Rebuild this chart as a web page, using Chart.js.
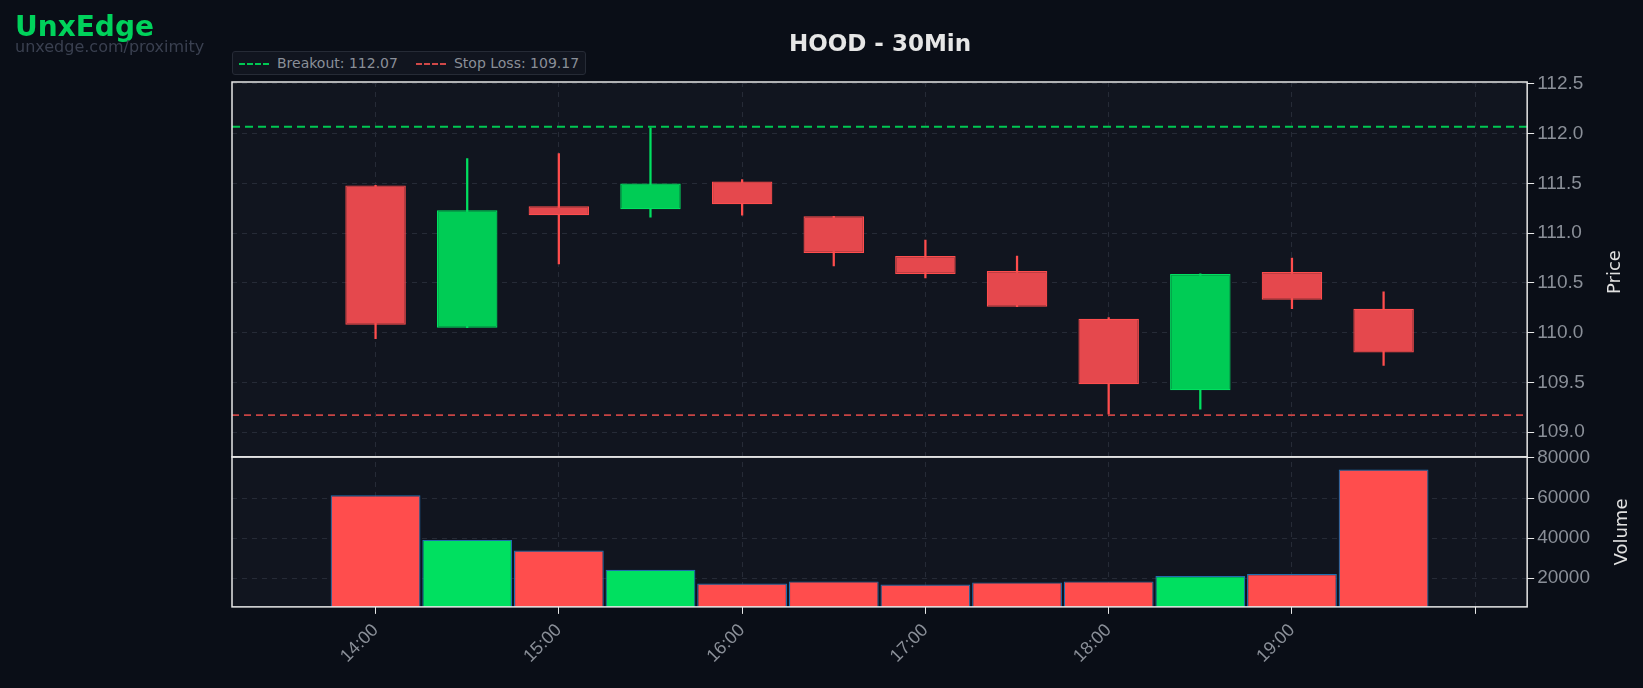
<!DOCTYPE html>
<html>
<head>
<meta charset="utf-8">
<title>HOOD - 30Min</title>
<script src="https://cdn.jsdelivr.net/npm/chart.js"></script>
<style>
  body { margin: 0; background: #0a0e17; font-family: "DejaVu Sans", sans-serif; }
  #wrap { position: relative; width: 1643px; height: 688px; }
  #brand { position: absolute; left: 15px; top: 10px; color: #00d25b; font-weight: bold; font-size: 28px; }
  #sub { position: absolute; left: 15px; top: 37px; color: #3a4050; font-size: 16px; }
  #title { position: absolute; left: 0; width: 1760px; top: 30px; text-align: center; color: #e6e6e6; font-weight: bold; font-size: 23px; }
  #legend { position: absolute; left: 232px; top: 51px; padding: 3px 6px; background: #11151f; border: 1px solid #262b36; border-radius: 3px; color: #8a8f98; font-size: 14px; }
  #legend span { margin-right: 18px; }
  #legend span:last-child { margin-right: 0; }
  #legend i { display: inline-block; width: 30px; height: 0; vertical-align: middle; margin-right: 8px; }
  .ax { position: absolute; color: #e0e0e0; font-size: 18px; transform: translate(-50%, -50%) rotate(-90deg); white-space: nowrap; }
</style>
</head>
<body>
<div id="wrap">
  <canvas id="c" width="1643" height="688"></canvas>
  <div id="brand">UnxEdge</div>
  <div id="sub">unxedge.com/proximity</div>
  <div id="title">HOOD - 30Min</div>
  <div id="legend"><span><i style="border-top:2px dashed #00c853"></i>Breakout: 112.07</span><span><i style="border-top:2px dashed #d04848"></i>Stop Loss: 109.17</span></div>
  <div class="ax" style="left:1613px; top:272px">Price</div>
  <div class="ax" style="left:1620px; top:532px">Volume</div>
</div>
<script>
  // minutes since midnight
  const times = [840, 870, 900, 930, 960, 990, 1020, 1050, 1080, 1110, 1140, 1170];
  const opens  = [111.48, 110.05, 111.27, 111.24, 111.52, 111.17, 110.77, 110.62, 110.14, 109.42, 110.61, 110.24];
  const closes = [110.08, 111.23, 111.18, 111.50, 111.29, 110.80, 110.59, 110.26, 109.48, 110.59, 110.33, 109.80];
  const highs  = [111.48, 111.75, 111.80, 112.06, 111.54, 111.17, 110.93, 110.77, 110.15, 110.59, 110.75, 110.41];
  const lows   = [109.94, 110.05, 110.69, 111.16, 111.18, 110.67, 110.55, 110.26, 109.18, 109.23, 110.24, 109.67];
  const volumes = [61400, 39100, 33800, 24200, 17300, 18400, 16800, 17900, 18400, 21100, 22100, 74200];
  const breakout = 112.07;
  const stopLoss = 109.17;
  const xMin = 793, xMax = 1217;

  const up = times.map((t, i) => closes[i] >= opens[i]);
  const bodyCol = up.map(u => u ? '#00cc55' : '#e5484d');
  const edgeCol = up.map(u => u ? '#00e060' : '#ff4d4d');
  const volCol = up.map(u => u ? '#00e060' : '#ff4d4d');

  const tickCol = '#8a8f98';
  const gridCol = '#262b37';

  const panelBorders = {
    id: 'panelBorders',
    beforeDraw(chart) {
      const { ctx, chartArea } = chart;
      ctx.save();
      ctx.fillStyle = '#11151f';
      ctx.fillRect(chartArea.left, chartArea.top, chartArea.right - chartArea.left, chartArea.bottom - chartArea.top);
      ctx.restore();
    },
    afterDraw(chart) {
      const { ctx, chartArea } = chart;
      ctx.save();
      ctx.strokeStyle = '#e8e8e8';
      ctx.lineWidth = 1.5;
      ['y', 'vol'].forEach(id => {
        const s = chart.scales[id];
        ctx.strokeRect(chartArea.left, s.top, chartArea.right - chartArea.left, s.bottom - s.top);
      });
      ctx.restore();
    }
  };

  const grid = { color: gridCol, tickColor: '#e8e8e8', tickLength: 7, offset: false };
  const border = { display: false, dash: [5, 5] };

  new Chart(document.getElementById('c'), {
    data: {
      datasets: [
        {
          type: 'bar', label: 'wick', yAxisID: 'y', grouped: false,
          data: times.map((t, i) => ({ x: t, y: [lows[i], highs[i]] })),
          backgroundColor: edgeCol, barThickness: 1.6, order: 3
        },
        {
          type: 'bar', label: 'body', yAxisID: 'y', grouped: false,
          data: times.map((t, i) => ({ x: t, y: [opens[i], closes[i]] })),
          backgroundColor: bodyCol, borderColor: edgeCol, borderWidth: 1.2, borderSkipped: false,
          categoryPercentage: 1, barPercentage: 0.66, order: 2
        },
        {
          type: 'bar', label: 'volume', yAxisID: 'vol', grouped: false,
          data: times.map((t, i) => ({ x: t, y: volumes[i] })),
          backgroundColor: volCol, borderColor: '#1f6fb0', borderWidth: 1.2, borderSkipped: false,
          categoryPercentage: 1, barPercentage: 0.98
        },
        {
          type: 'line', label: 'Breakout', yAxisID: 'y',
          data: [{ x: xMin, y: breakout }, { x: xMax, y: breakout }],
          borderColor: '#00c853', borderWidth: 2.2, borderDash: [8, 5], pointRadius: 0, order: 1
        },
        {
          type: 'line', label: 'Stop Loss', yAxisID: 'y',
          data: [{ x: xMin, y: stopLoss }, { x: xMax, y: stopLoss }],
          borderColor: '#c84444', borderWidth: 1.8, borderDash: [7, 5], pointRadius: 0, order: 1
        }
      ]
    },
    options: {
      responsive: false,
      animation: false,
      layout: { padding: { left: 232, top: 82, right: 50, bottom: 15 } },
      plugins: { legend: { display: false }, tooltip: { enabled: false } },
      scales: {
        x: {
          type: 'linear', min: xMin, max: xMax, offset: false,
          afterBuildTicks: s => { s.ticks = [840, 900, 960, 1020, 1080, 1140, 1200].map(v => ({ value: v })); },
          ticks: {
            color: tickCol, font: { size: 18 }, minRotation: 45, maxRotation: 45, autoSkip: false, padding: 6,
            callback: v => v >= 1200 ? '' : Math.floor(v / 60) + ':00'
          },
          grid, border
        },
        y: {
          position: 'right', stack: 'p', stackWeight: 2.5, min: 108.75, max: 112.52,
          afterBuildTicks: s => { s.ticks = [109, 109.5, 110, 110.5, 111, 111.5, 112, 112.5].map(v => ({ value: v })); },
          ticks: { color: tickCol, font: { size: 19 }, callback: v => v.toFixed(1) },
          grid, border
        },
        vol: {
          position: 'right', stack: 'p', stackWeight: 1, min: 5700, max: 80500,
          afterBuildTicks: s => { s.ticks = [20000, 40000, 60000, 80000].map(v => ({ value: v })); },
          ticks: { color: tickCol, font: { size: 19 }, callback: v => String(v) },
          grid, border
        }
      }
    },
    plugins: [panelBorders]
  });
</script>
</body>
</html>
